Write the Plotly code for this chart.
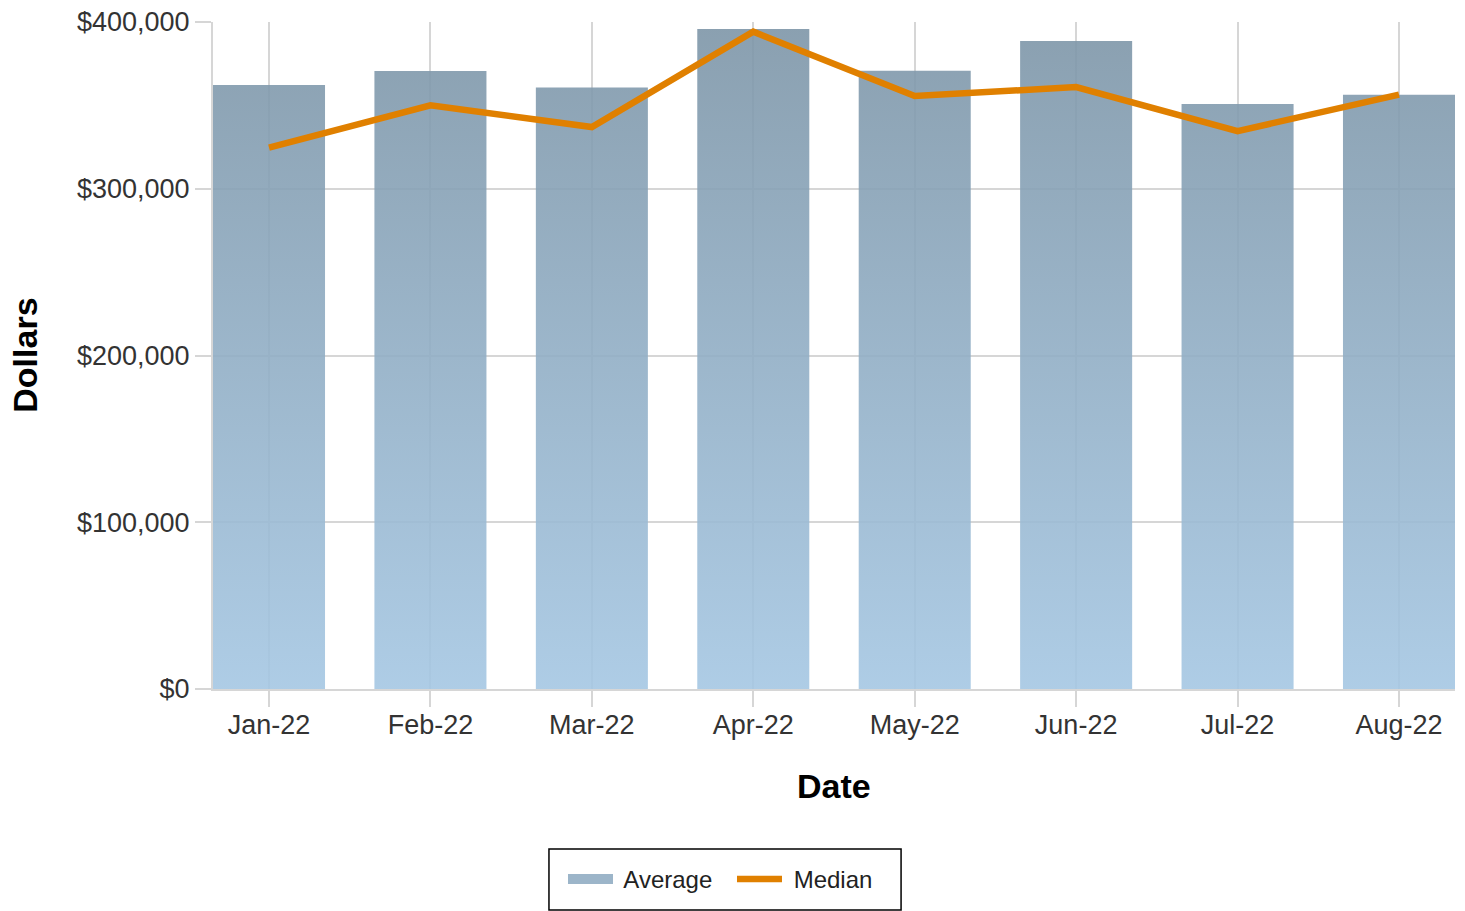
import plotly.graph_objects as go

months = ["Jan-22", "Feb-22", "Mar-22", "Apr-22", "May-22", "Jun-22", "Jul-22", "Aug-22"]
average = [362200, 370600, 360700, 395800, 370800, 388600, 350800, 356400]
median = [324600, 350000, 337000, 394200, 355600, 361000, 334600, 356400]
y_ticks = [0, 100000, 200000, 300000, 400000]
y_tick_labels = ["$0", "$100,000", "$200,000", "$300,000", "$400,000"]

BAR_W = 0.694
NARROW = "Liberation Sans Narrow, Arial Narrow, Liberation Sans, sans-serif"
BOLD = "Liberation Sans, Arial, sans-serif"
GRID = "#d6d6d6"

# bar outlines built from data through the axis scale
bx, by = [], []
for i, v in enumerate(average):
    bx += [i - BAR_W / 2, i + BAR_W / 2, i + BAR_W / 2, i - BAR_W / 2, i - BAR_W / 2, None]
    by += [0, 0, v, v, 0, None]

fig = go.Figure()
fig.add_trace(go.Scatter(
    x=bx, y=by, name="Average", mode="none", fill="toself", showlegend=False,
    fillgradient=dict(type="vertical", start=0, stop=400000,
                      colorscale=[[0, "rgba(165,199,227,0.9)"], [1, "rgba(125,149,167,0.9)"]]),
    hoverinfo="skip",
))
# legend swatch for the bars
fig.add_trace(go.Scatter(
    x=[None], y=[None], name=" Average", mode="lines",
    line=dict(color="#9cb5c9", width=20),
))
fig.add_trace(go.Scatter(
    x=list(range(len(months))), y=median, name=" Median", mode="lines",
    line=dict(color="#e08000", width=6.5),
))

fig.update_layout(
    width=1465, height=911,
    margin=dict(l=213, r=10, t=22, b=222, autoexpand=False),
    paper_bgcolor="white", plot_bgcolor="white",
    showlegend=True,
    legend=dict(orientation="h", x=0.2818, xanchor="left", y=-0.2519, yanchor="top",
                borderwidth=0, bgcolor="rgba(0,0,0,0)",
                font=dict(family=NARROW, size=24, color="#222"),
                itemwidth=45, entrywidth=109, tracegroupgap=0),
    shapes=[dict(type="rect", xref="paper", yref="paper",
                 x0=0.2705, x1=0.554, y0=-0.2399, y1=-0.3313,
                 line=dict(color="black", width=1.5), fillcolor="rgba(0,0,0,0)",
                 layer="below")],
    xaxis=dict(range=[-BAR_W / 2, len(months) - 1 + BAR_W / 2], automargin=False,
               tickvals=list(range(len(months))), ticktext=months,
               showgrid=True, gridcolor=GRID, gridwidth=1.5,
               showline=True, linecolor=GRID, linewidth=2,
               ticks="outside", ticklen=16, tickcolor=GRID, tickwidth=1.5,
               ticklabelstandoff=-5,
               tickfont=dict(family=NARROW, size=27, color="#333"),
               zeroline=False),
    yaxis=dict(range=[0, 400000], tickvals=y_ticks, ticktext=y_tick_labels, automargin=False,
               showgrid=True, gridcolor=GRID, gridwidth=2,
               showline=True, linecolor=GRID, linewidth=2,
               ticks="outside", ticklen=16, tickcolor=GRID, tickwidth=2,
               tickfont=dict(family=NARROW, size=27, color="#333"),
               zeroline=False),
    annotations=[
        dict(text="<b>Date</b>", xref="paper", yref="paper", x=0.5, y=-0.145,
             xanchor="center", yanchor="middle", showarrow=False,
             font=dict(family=BOLD, size=34, color="black")),
        dict(text="<b>Dollars</b>", xref="paper", yref="paper", x=-0.152, y=0.5,
             xanchor="center", yanchor="middle", showarrow=False, textangle=-90,
             font=dict(family=BOLD, size=34, color="black")),
    ],
)

fig.write_html("out.html", config={"displayModeBar": False},
               post_script="document.body.style.margin='0';")
